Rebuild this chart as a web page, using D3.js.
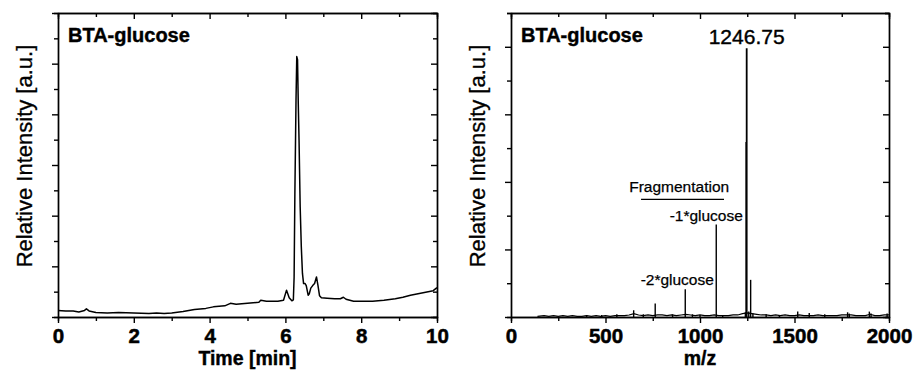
<!DOCTYPE html>
<html>
<head>
<meta charset="utf-8">
<script src="https://cdn.jsdelivr.net/npm/d3@7"></script>
<style>
  body { margin: 0; background: #fff; }
  svg { display: block; font-family: "Liberation Sans", Arial, sans-serif; }
</style>
</head>
<body>
<svg id="chart" width="916" height="372"></svg>
<script>
// chromatogram (left): retention time [min] vs. relative intensity
const timeMin = [0.00, 0.20, 0.40, 0.55, 0.70, 0.75, 0.82, 1.00, 1.30, 1.60, 2.00, 2.40, 2.60, 2.80, 3.00,
  3.30, 3.60, 3.90, 4.10, 4.40, 4.55, 4.70, 5.00, 5.30, 5.35, 5.50, 5.80, 5.95, 6.03, 6.10, 6.17, 6.21,
  6.23, 6.25, 6.28, 6.30, 6.32, 6.34, 6.36, 6.39, 6.42, 6.45, 6.48, 6.52, 6.55, 6.60, 6.63, 6.67, 6.72,
  6.77, 6.82, 6.86, 6.90, 6.95, 7.10, 7.30, 7.45, 7.53, 7.60, 7.80, 8.00, 8.30, 8.60, 8.90, 9.10, 9.30,
  9.50, 9.70, 9.90, 10.00];
const lcIntensity = [0.13, 0.12, 0.12, 0.10, 0.13, 0.16, 0.12, 0.09, 0.08, 0.09, 0.08, 0.07, 0.08, 0.07, 0.08,
  0.11, 0.15, 0.17, 0.20, 0.22, 0.27, 0.25, 0.27, 0.29, 0.33, 0.31, 0.31, 0.33, 0.53, 0.38, 0.32, 0.34,
  0.79, 2.44, 4.28, 5.14, 5.08, 4.20, 3.49, 2.17, 1.38, 0.86, 0.66, 0.66, 0.62, 0.43, 0.46, 0.57, 0.62,
  0.66, 0.79, 0.62, 0.42, 0.38, 0.37, 0.36, 0.36, 0.39, 0.35, 0.31, 0.31, 0.31, 0.33, 0.36, 0.39, 0.43,
  0.46, 0.49, 0.52, 0.58];

// mass spectrum (right): baseline noise and peaks
const noiseMz = [140, 175, 200, 225, 250, 275, 300, 325, 350, 375, 400, 425, 450, 475, 500, 525, 550, 575,
  600, 625, 650, 675, 700, 725, 750, 775, 800, 825, 850, 875, 900, 925, 950, 975, 1000, 1025, 1050, 1075,
  1100, 1125, 1150, 1175, 1200, 1225, 1250, 1275, 1300, 1325, 1350, 1375, 1400, 1425, 1450, 1475, 1500,
  1525, 1550, 1575, 1600, 1625, 1650, 1675, 1700, 1725, 1750, 1775, 1800, 1825, 1850, 1875, 1900, 1925,
  1950, 1975, 2000];
const noiseLevel = [0.01, 0.02, 0.01, 0.02, 0.01, 0.02, 0.01, 0.02, 0.01, 0.01, 0.02, 0.01, 0.02, 0.01, 0.02,
  0.01, 0.02, 0.02, 0.02, 0.03, 0.05, 0.03, 0.02, 0.03, 0.02, 0.03, 0.03, 0.02, 0.03, 0.02, 0.03, 0.04,
  0.03, 0.02, 0.03, 0.02, 0.02, 0.03, 0.02, 0.02, 0.02, 0.03, 0.03, 0.05, 0.06, 0.05, 0.04, 0.03, 0.03,
  0.02, 0.03, 0.02, 0.03, 0.02, 0.02, 0.03, 0.02, 0.02, 0.02, 0.03, 0.02, 0.02, 0.02, 0.02, 0.03, 0.03,
  0.03, 0.02, 0.02, 0.02, 0.04, 0.02, 0.02, 0.03, 0.03];
const peakMz = [400, 480, 560, 649, 700, 763, 855, 922, 960, 1000, 1086, 1120, 1240, 1244, 1247, 1258, 1268,
  1280, 1350, 1420, 1517, 1578, 1660, 1781, 1790, 1896, 1905, 1990];
const peakIntensity = [0.03, 0.03, 0.04, 0.10, 0.04, 0.20, 0.04, 0.41, 0.04, 0.03, 1.37, 0.03, 0.07, 2.59,
  3.98, 0.08, 0.55, 0.05, 0.04, 0.03, 0.08, 0.06, 0.04, 0.07, 0.05, 0.08, 0.05, 0.05];

const lcTicks = [0, 2, 4, 6, 8, 10];
const msTicks = [0, 500, 1000, 1500, 2000];

const svg = d3.select("#chart");
const plotTop = 13, plotBottom = 317;

// frame with outward ticks left/bottom, inward ticks top/right
function drawFrame(g, x, y, xMajor, xMinor, yMajor, yMinor, xTitle) {
  const [x0, x1] = x.range();
  const minor = (vals, major) => vals.filter((v) => !major.includes(v));

  // minor ticks first
  g.append("g").attr("transform", `translate(0,${plotBottom})`)
    .call(d3.axisBottom(x).tickValues(minor(xMinor, xMajor)).tickSize(4).tickFormat(""));
  g.append("g").attr("transform", `translate(0,${plotTop})`)
    .call(d3.axisTop(x).tickValues(minor(xMinor, xMajor)).tickSize(-4).tickFormat(""));
  g.append("g").attr("transform", `translate(${x0},0)`)
    .call(d3.axisLeft(y).tickValues(minor(yMinor, yMajor)).tickSize(4).tickFormat(""));
  g.append("g").attr("transform", `translate(${x1},0)`)
    .call(d3.axisRight(y).tickValues(minor(yMinor, yMajor)).tickSize(-4).tickFormat(""));

  const xb = g.append("g").attr("transform", `translate(0,${plotBottom})`)
    .call(d3.axisBottom(x).tickValues(xMajor).tickSizeInner(6).tickSizeOuter(0).tickFormat(d3.format("d")));
  xb.attr("font-weight", "bold").attr("font-size", 20.5)
    .attr("font-family", "'Liberation Sans', Arial, sans-serif");
  xb.selectAll("text")
    .attr("y", 26).attr("dy", null)
    .attr("stroke", "#000").attr("stroke-width", 0.5);
  g.append("g").attr("transform", `translate(0,${plotTop})`)
    .call(d3.axisTop(x).tickValues(xMajor).tickSizeInner(-6).tickSizeOuter(0).tickFormat(""));
  g.append("g").attr("transform", `translate(${x0},0)`)
    .call(d3.axisLeft(y).tickValues(yMajor).tickSizeInner(6).tickSizeOuter(0).tickFormat(""));
  g.append("g").attr("transform", `translate(${x1},0)`)
    .call(d3.axisRight(y).tickValues(yMajor).tickSizeInner(-6).tickSizeOuter(0).tickFormat(""));

  g.selectAll(".domain, .tick line").attr("stroke", "#000").attr("stroke-width", 1.4);

  g.append("text")
    .attr("x", (x0 + x1) / 2).attr("y", 365)
    .attr("text-anchor", "middle")
    .attr("font-size", 19.5).attr("font-weight", "bold")
    .attr("stroke", "#000").attr("stroke-width", 0.4)
    .text(xTitle);

  g.append("text")
    .attr("transform", `translate(${x0 - 26},156) rotate(-90)`)
    .attr("text-anchor", "middle")
    .attr("font-size", 22)
    .attr("stroke", "#000").attr("stroke-width", 0.3)
    .text("Relative Intensity [a.u.]");

  g.append("text")
    .attr("x", x0 + 10).attr("y", 42)
    .attr("font-size", 20).attr("font-weight", "bold")
    .attr("stroke", "#000").attr("stroke-width", 0.4)
    .text("BTA-glucose");
}

// ---- left panel: chromatogram
const xLc = d3.scaleLinear().domain([0, 10]).range([58, 437]);
const yLc = d3.scaleLinear().domain([0, 6]).range([plotBottom, plotTop]);
const gL = svg.append("g");
drawFrame(gL, xLc, yLc, lcTicks, d3.range(0, 11, 1), d3.range(0, 7, 1), d3.range(0, 6.01, 0.5), "Time [min]");

gL.append("path")
  .datum(timeMin.map((t, i) => [t, lcIntensity[i]]))
  .attr("fill", "none")
  .attr("stroke", "#000")
  .attr("stroke-width", 1.5)
  .attr("stroke-linejoin", "round")
  .attr("d", d3.line().x((d) => xLc(d[0])).y((d) => yLc(d[1])));

// ---- right panel: mass spectrum
const xMs = d3.scaleLinear().domain([0, 2000]).range([511, 889]);
const yMs = d3.scaleLinear().domain([0, 4.5]).range([plotBottom, plotTop]);
const gR = svg.append("g");
drawFrame(gR, xMs, yMs, msTicks, d3.range(0, 2001, 250), d3.range(0, 5, 1), d3.range(0, 4.51, 0.5), "m/z");

gR.append("path")
  .datum(noiseMz.map((m, i) => [m, noiseLevel[i]]))
  .attr("fill", "none")
  .attr("stroke", "#000")
  .attr("stroke-width", 1.2)
  .attr("d", d3.line().x((d) => xMs(d[0])).y((d) => yMs(d[1])));

gR.selectAll(".peak")
  .data(peakMz.map((m, i) => ({ mz: m, h: peakIntensity[i] })))
  .enter()
  .append("line")
  .attr("class", "peak")
  .attr("x1", (d) => xMs(d.mz)).attr("x2", (d) => xMs(d.mz))
  .attr("y1", yMs(0)).attr("y2", (d) => yMs(d.h))
  .attr("stroke", "#000")
  .attr("stroke-width", (d) => (d.h > 3 ? 1.8 : 1.4));

// annotations
gR.append("text")
  .attr("x", xMs(1246.75)).attr("y", yMs(3.98) - 4)
  .attr("text-anchor", "middle").attr("font-size", 21)
  .attr("stroke", "#000").attr("stroke-width", 0.4)
  .text("1246.75");

gR.append("text")
  .attr("x", xMs(1086) - 10).attr("y", yMs(1.37) - 3)
  .attr("text-anchor", "middle").attr("font-size", 15.5)
  .attr("stroke", "#000").attr("stroke-width", 0.25)
  .text("-1*glucose");

gR.append("text")
  .attr("x", xMs(922) - 8).attr("y", yMs(0.41) - 4)
  .attr("text-anchor", "middle").attr("font-size", 15.5)
  .attr("stroke", "#000").attr("stroke-width", 0.25)
  .text("-2*glucose");

gR.append("line")
  .attr("x1", xMs(688)).attr("x2", xMs(1127))
  .attr("y1", yMs(1.74)).attr("y2", yMs(1.74))
  .attr("stroke", "#000").attr("stroke-width", 1.3);

gR.append("text")
  .attr("x", xMs(890)).attr("y", yMs(1.74) - 7)
  .attr("text-anchor", "middle").attr("font-size", 15.5)
  .attr("stroke", "#000").attr("stroke-width", 0.25)
  .text("Fragmentation");
</script>
</body>
</html>
